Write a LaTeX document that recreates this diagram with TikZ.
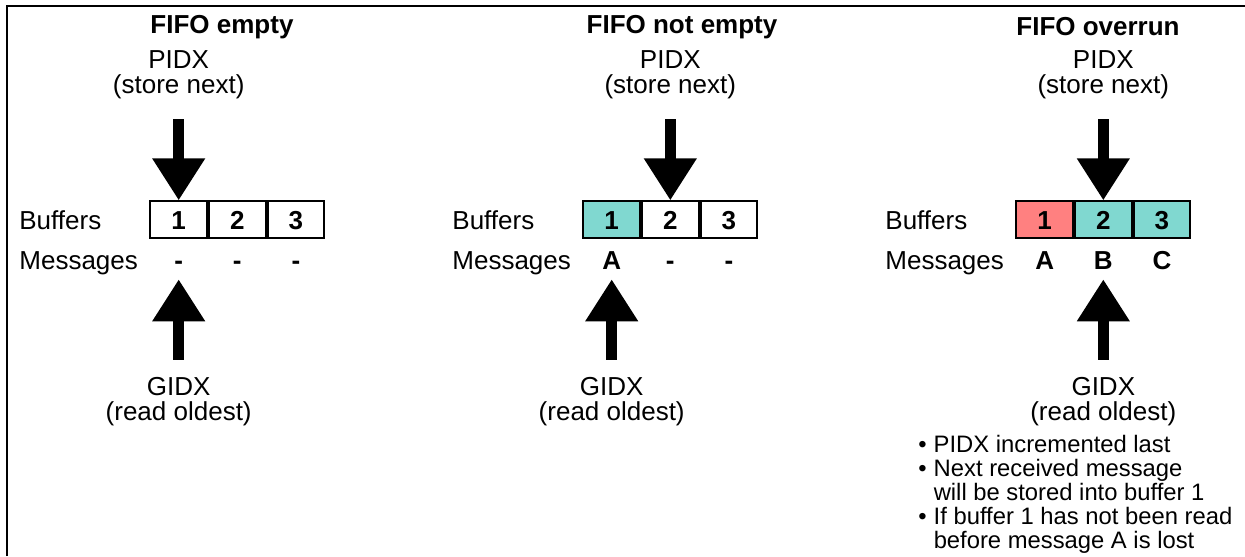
\documentclass[tikz,border=0pt]{standalone}
\usepackage{fontspec}
\setmainfont{Liberation Sans}
\usepackage{xcolor}
\usepackage{tikz}
\usetikzlibrary{arrows.meta,positioning,matrix}

\definecolor{bufteal}{RGB}{128,216,208}
\definecolor{bufred}{RGB}{255,128,128}

\begin{document}
\begin{tikzpicture}[x=0.5pt, y=-0.5pt,
    every node/.style={font=\fontsize{13}{12.5}\selectfont, inner sep=0pt},
    title/.style={font=\fontsize{13}{12.5}\selectfont\bfseries},
    idx/.style={align=center},
    buf/.style={matrix of nodes, inner sep=0pt, column sep=0pt, row sep=1.25pt,
        nodes={minimum width=28.3pt, minimum height=18.5pt, text height=11.8pt, text depth=2.5pt,
            anchor=center, inner sep=0pt, font=\fontsize{13}{12.5}\selectfont\bfseries},
        column 1/.style={nodes={text width=65pt, align=left, font=\fontsize{13}{12.5}\selectfont}}},
    cell/.style={draw, line width=1pt},
    bigarrow/.style={line width=5.25pt, -{Triangle[length=21pt, width=25pt]}},
    notes/.style={align=left, font=\fontsize{11.9}{12}\selectfont}]
\useasboundingbox (0,0) rectangle (1245,556);
\draw[line width=0.7pt] (7,556) -- (7,6) -- (1245,6);

\node[title] (t1) at (222,27) {FIFO empty};
\node[title] (t2) at (682,27) {FIFO not empty};
\node[title] (t3) at (1098,27) {FIFO overrun};

\matrix (b1) [buf, anchor=north west] at (19,200)
{
    Buffers & |[cell]| 1 & |[cell]| 2 & |[cell]| 3 \\
    Messages & - & - & - \\
};
\matrix (b2) [buf, anchor=north west] at (452,200)
{
    Buffers & |[cell, fill=bufteal]| 1 & |[cell]| 2 & |[cell]| 3 \\
    Messages & A & - & - \\
};
\matrix (b3) [buf, anchor=north west] at (885,200)
{
    Buffers & |[cell, fill=bufred]| 1 & |[cell, fill=bufteal]| 2 & |[cell, fill=bufteal]| 3 \\
    Messages & A & B & C \\
};

\node[idx, above=50.5pt of b1-1-2.north] (p1) {PIDX\\(store next)};
\node[idx, above=50.5pt of b2-1-3.north] (p2) {PIDX\\(store next)};
\node[idx, above=50.5pt of b3-1-3.north] (p3) {PIDX\\(store next)};
\node[idx, below=48.6pt of b1-2-2.south] (g1) {GIDX\\(read oldest)};
\node[idx, below=48.6pt of b2-2-2.south] (g2) {GIDX\\(read oldest)};
\node[idx, below=48.6pt of b3-2-3.south] (g3) {GIDX\\(read oldest)};

\draw[bigarrow, shorten <=10pt] (p1) -- (b1-1-2.north);
\draw[bigarrow, shorten <=10pt] (p2) -- (b2-1-3.north);
\draw[bigarrow, shorten <=10pt] (p3) -- (b3-1-3.north);
\draw[bigarrow, shorten <=8.4pt] (g1) -- (b1-2-2.south);
\draw[bigarrow, shorten <=8.4pt] (g2) -- (b2-2-2.south);
\draw[bigarrow, shorten <=8.4pt] (g3) -- (b3-2-3.south);

\node[notes, anchor=north west] (n3) at (918,435) {\textbullet\hspace{3.5pt}PIDX incremented last\\
    \textbullet\hspace{3.5pt}Next received message\\
    \phantom{\textbullet}\hspace{3.5pt}will be stored into buffer 1\\
    \textbullet\hspace{3.5pt}If buffer 1 has not been read\\
    \phantom{\textbullet}\hspace{3.5pt}before message A is lost};
\end{tikzpicture}
\end{document}
